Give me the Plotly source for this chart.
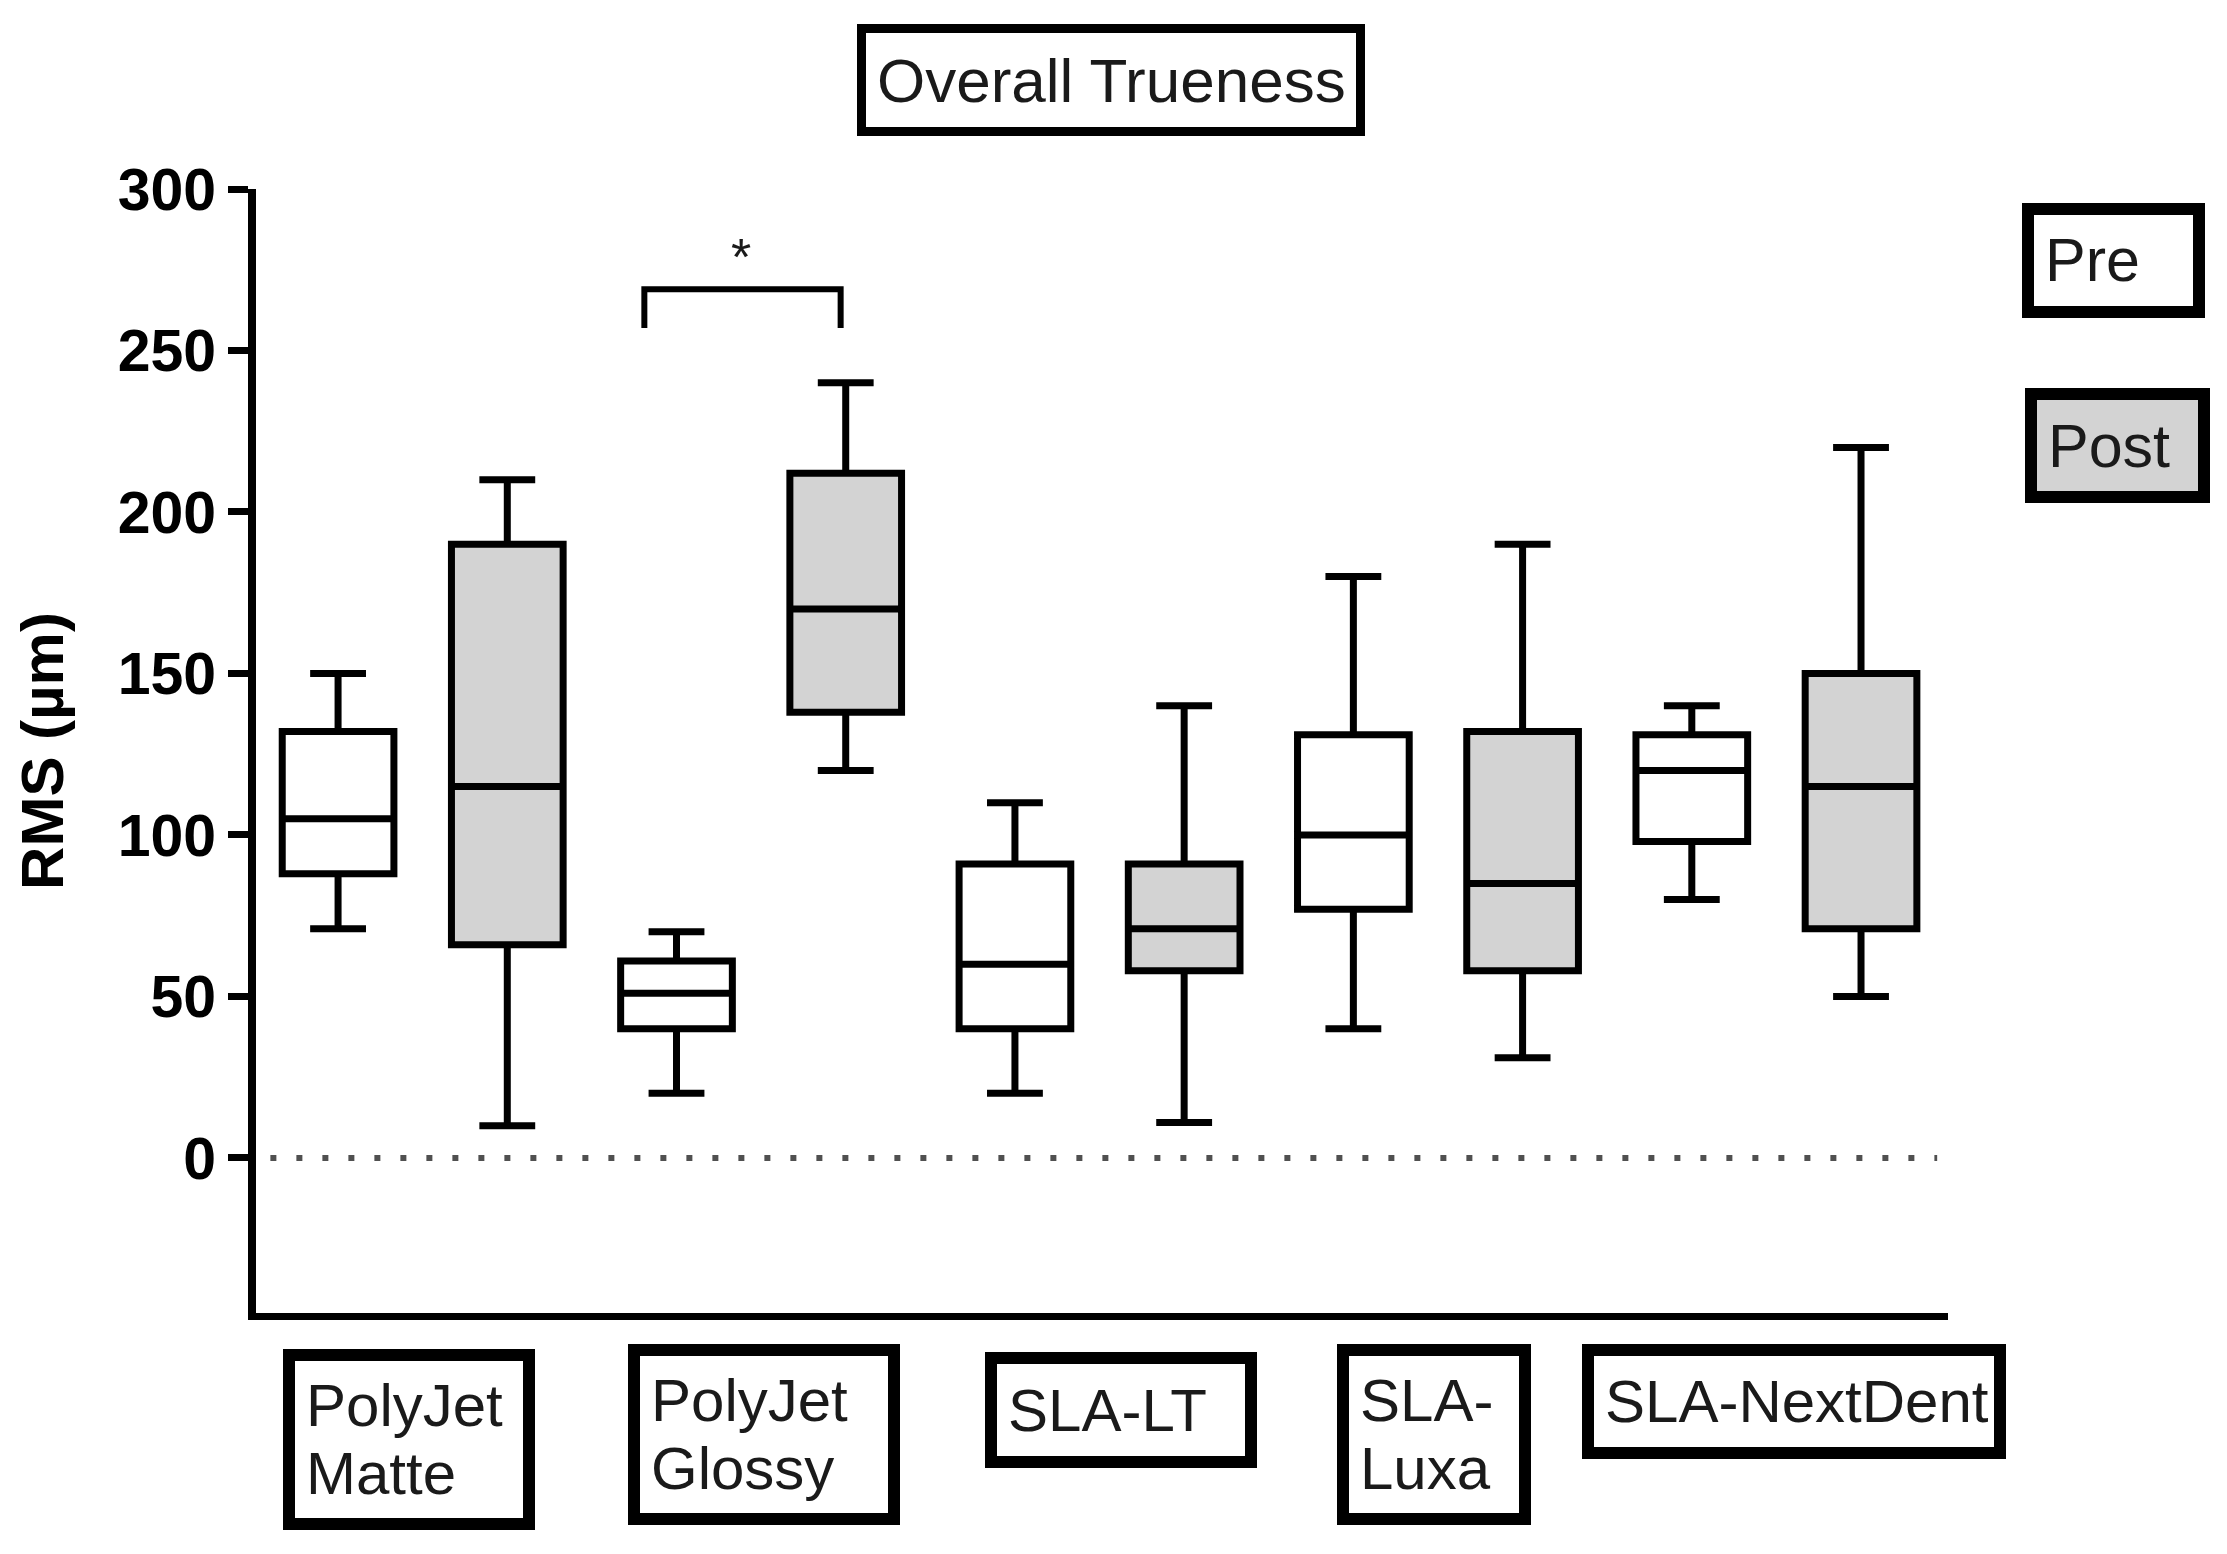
import plotly.graph_objects as go

# ---------------- data ----------------
categories = [["PolyJet", "Matte"], ["PolyJet", "Glossy"], ["SLA-LT"], ["SLA-", "Luxa"], ["SLA-NextDent"]]
pre_pos = [1, 3, 5, 7, 9]
post_pos = [2, 4, 6, 8, 10]

pre_min = [71, 20, 20, 40, 80]
pre_q1 = [88, 40, 40, 77, 98]
pre_med = [105, 51, 60, 100, 120]
pre_q3 = [132, 61, 91, 131, 131]
pre_max = [150, 70, 110, 180, 140]

post_min = [10, 120, 11, 31, 50]
post_q1 = [66, 138, 58, 58, 71]
post_med = [115, 170, 71, 85, 115]
post_q3 = [190, 212, 91, 132, 150]
post_max = [210, 240, 140, 190, 220]

y_ticks = [0, 50, 100, 150, 200, 250, 300]

sig_x = [2.81, 2.81, 3.97, 3.97]
sig_y = [257, 269, 269, 257]
sig_star = (3.38, 279)

# ---------------- figure ----------------
OFF = 8  # default page body margin
W, H = 2227 - OFF, 1554 - OFF
L, R, T, B = 256 - OFF, 1948 - OFF, 189 - OFF, 1313 - OFF
FONT = "Arial, Liberation Sans, Helvetica, sans-serif"
GRAY = "#d3d3d3"
TXT = "#1a1a1a"

fig = go.Figure()

box_common = dict(
    boxpoints=False,
    line=dict(color="black", width=7),
    width=0.66,
    whiskerwidth=0.5,
    showlegend=False,
    hoverinfo="skip",
)

fig.add_trace(go.Box(
    x=pre_pos, q1=pre_q1, median=pre_med, q3=pre_q3,
    lowerfence=pre_min, upperfence=pre_max,
    fillcolor="white", name="Pre", **box_common))
fig.add_trace(go.Box(
    x=post_pos, q1=post_q1, median=post_med, q3=post_q3,
    lowerfence=post_min, upperfence=post_max,
    fillcolor=GRAY, name="Post", **box_common))

# significance bracket
fig.add_trace(go.Scatter(
    x=sig_x, y=sig_y, mode="lines",
    line=dict(color="black", width=6),
    showlegend=False, hoverinfo="skip"))

# dotted zero line
fig.add_shape(type="line", xref="x", yref="y", x0=0.6, x1=10.45, y0=0, y1=0,
              line=dict(color="#505050", width=6, dash="6px,20px"), layer="below")


def px_x(px):
    return (px - OFF - L) / (R - L)


def px_y(py):
    return (B - (py - OFF)) / (B - T)


def boxed(lines, x0, y0, x1, y1, bw, bg="white", align="left", inset=21,
          size=60, spacing=68):
    h = bw / 2.0
    fig.add_shape(type="rect", xref="paper", yref="paper",
                  x0=px_x(x0 + h), x1=px_x(x1 - h), y0=px_y(y0 + h), y1=px_y(y1 - h),
                  line=dict(color="black", width=bw), fillcolor=bg, layer="above")
    cy = (y0 + y1) / 2.0
    n = len(lines)
    for i, ln in enumerate(lines):
        ly = cy + (i - (n - 1) / 2.0) * spacing
        if align == "center":
            xa, xx = "center", (x0 + x1) / 2.0
        else:
            xa, xx = "left", x0 + inset
        fig.add_annotation(text=ln, xref="paper", yref="paper",
                           x=px_x(xx), y=px_y(ly), xanchor=xa, yanchor="middle",
                           showarrow=False,
                           font=dict(family=FONT, size=size, color=TXT))


# title box
boxed(["Overall Trueness"], 857, 24, 1365, 136, 9, align="center", size=62)
# legend boxes
boxed(["Pre"], 2022, 203, 2205, 318, 12, size=61)
boxed(["Post"], 2025, 388, 2210, 503, 12, bg=GRAY, size=61)
# category boxes
cat_boxes = [(283, 1349, 535, 1530), (628, 1344, 900, 1525), (985, 1352, 1257, 1468),
             (1337, 1344, 1531, 1525), (1582, 1344, 2006, 1459)]
for txt, (a, b, c, d) in zip(categories, cat_boxes):
    boxed(txt, a, b, c, d, 12)

# star
fig.add_annotation(text="*", x=sig_star[0], y=sig_star[1], xref="x", yref="y",
                   showarrow=False, font=dict(family=FONT, size=52, color=TXT))

fig.update_layout(
    width=W, height=H,
    margin=dict(l=L, r=W - R, t=T, b=H - B, pad=0),
    plot_bgcolor="white", paper_bgcolor="white",
    showlegend=False,
    xaxis=dict(range=[0.515, 10.514], showgrid=False, zeroline=False, showticklabels=False,
               ticks="", showline=True, linecolor="black", linewidth=7),
    yaxis=dict(range=[-48, 300], showgrid=False, zeroline=False,
               tickvals=y_ticks, ticktext=[str(v) for v in y_ticks],
               ticks="outside", ticklen=20, tickwidth=7, tickcolor="black",
               showline=True, linecolor="black", linewidth=8,
               tickfont=dict(family=FONT, size=59, color="black", weight="bold"),
               title=dict(text="RMS (µm)", standoff=38,
                          font=dict(family=FONT, size=60, color="black", weight="bold"))),
)

fig.write_html("out.html")
